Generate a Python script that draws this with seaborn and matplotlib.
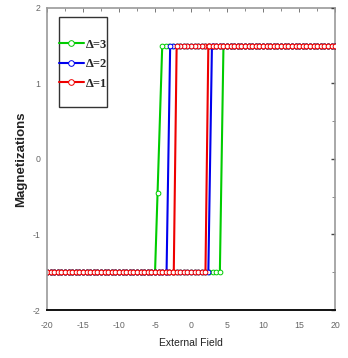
import numpy as np
import pandas as pd
import matplotlib
matplotlib.use("Agg")
import matplotlib.pyplot as plt
from matplotlib.patches import Rectangle
from matplotlib.ticker import MultipleLocator
import seaborn as sns

# Hysteresis loops M(H) for three values of Delta
DELTAS = [3, 2, 1]
LABELS = ["Δ=3", "Δ=2", "Δ=1"]
COLORS = ["#00cc00", "#0000ee", "#ee0000"]
M_SAT = 1.5
FIELD_STEP = 0.5
FIELD_MIN, FIELD_MAX = -20.0, 20.0
# descending sweep: last field on the upper plateau, first field on the lower plateau
DOWN_TOP = [-4.0, -2.9, -2.0]
DOWN_BOTTOM = [-5.0, -3.4, -2.4]
# ascending sweep: last field on the lower plateau, first field on the upper plateau
UP_BOTTOM = [4.0, 2.4, 2.0]
UP_TOP = [4.5, 2.9, 2.4]
# points caught mid-switch on the descending branch
DOWN_MID = [[(-4.65, -0.45)], [], []]

X_TICKS = [-20, -15, -10, -5, 0, 5, 10, 15, 20]
Y_TICKS = [-2, -1, 0, 1, 2]


def loop_frame(i):
    grid = np.arange(FIELD_MIN, FIELD_MAX + 1e-9, FIELD_STEP)
    h, m = [], []
    # field swept down from +20 to -20
    top = grid[grid >= DOWN_TOP[i]][::-1]
    h += list(top); m += [M_SAT] * len(top)
    if top[-1] != DOWN_TOP[i]:
        h.append(DOWN_TOP[i]); m.append(M_SAT)
    for hh, mm in DOWN_MID[i]:
        h.append(hh); m.append(mm)
    bot = grid[grid <= DOWN_BOTTOM[i]][::-1]
    if bot[0] != DOWN_BOTTOM[i]:
        h.append(DOWN_BOTTOM[i]); m.append(-M_SAT)
    h += list(bot); m += [-M_SAT] * len(bot)
    # field swept back up from -20 to +20
    bot = grid[grid <= UP_BOTTOM[i]]
    h += list(bot); m += [-M_SAT] * len(bot)
    if bot[-1] != UP_BOTTOM[i]:
        h.append(UP_BOTTOM[i]); m.append(-M_SAT)
    top = grid[grid >= UP_TOP[i]]
    if top[0] != UP_TOP[i]:
        h.append(UP_TOP[i]); m.append(M_SAT)
    h += list(top); m += [M_SAT] * len(top)
    return pd.DataFrame({"H": h, "M": m})


sns.set_style("white")
plt.rcParams["font.family"] = ["Liberation Sans", "DejaVu Sans"]

fig = plt.figure(figsize=(3.48, 3.58), dpi=100)
ax = fig.add_axes([0.135, 0.134, 0.828, 0.844])

for i, lab in enumerate(LABELS):
    df = loop_frame(i)
    sns.lineplot(data=df, x="H", y="M", sort=False, estimator=None,
                 color=COLORS[i], lw=1.5, marker="o", markersize=3.4,
                 markerfacecolor="white", markeredgecolor=COLORS[i],
                 markeredgewidth=0.7, label=lab, ax=ax)

ax.set_xlim(FIELD_MIN, FIELD_MAX)
ax.set_ylim(-2, 2)
ax.set_xticks(X_TICKS)
ax.set_yticks(Y_TICKS)
ax.set_xticklabels([str(t) for t in X_TICKS])
ax.set_yticklabels([str(t) for t in Y_TICKS])
ax.xaxis.set_minor_locator(MultipleLocator(2.5))
ax.yaxis.set_minor_locator(MultipleLocator(0.5))
ax.tick_params(axis="both", which="major", direction="out", length=3,
               width=0.8, labelsize=6.3, labelcolor="#666666", color="#333333")
ax.tick_params(axis="x", which="major", pad=5)
ax.tick_params(axis="y", which="major", pad=1.5)
ax.tick_params(axis="both", which="minor", direction="out", length=2,
               width=0.6, color="#555555")

# inward ticks on the top and right frame edges
top_ax = ax.secondary_xaxis("top")
top_ax.set_xticks(X_TICKS)
top_ax.xaxis.set_minor_locator(MultipleLocator(2.5))
top_ax.tick_params(which="major", direction="in", length=3, width=0.7,
                   color="#777777", labeltop=False)
top_ax.tick_params(which="minor", direction="in", length=2, width=0.6, color="#777777")
right_ax = ax.secondary_yaxis("right")
right_ax.set_yticks(Y_TICKS)
right_ax.yaxis.set_minor_locator(MultipleLocator(0.5))
right_ax.tick_params(which="major", direction="in", length=3, width=1.0,
                     color="#444444", labelright=False)
right_ax.tick_params(which="minor", direction="in", length=2, width=0.6, color="#777777")

for a, side in [(ax, "left"), (top_ax, "top"), (right_ax, "right")]:
    a.spines[side].set_color("#999999")
    a.spines[side].set_linewidth(1.2)
for side in ["top", "right"]:
    ax.spines[side].set_visible(False)
ax.spines["bottom"].set_color("#111111")
ax.spines["bottom"].set_linewidth(1.4)

ax.set_xlabel("External Field", fontsize=7.5, color="#222222", labelpad=6)
ax.set_ylabel("Magnetizations", fontsize=9.5, fontweight="bold", color="#222222",
              labelpad=4)

leg = ax.legend(loc="upper left", bbox_to_anchor=(0.04, 0.898), frameon=False,
                handlelength=2.0, handletextpad=0.2, labelspacing=0.6,
                borderaxespad=0, borderpad=0, markerscale=1.2,
                prop={"family": "Liberation Serif", "weight": "bold", "size": 9})
ax.add_patch(Rectangle((0.042, 0.672), 0.166, 0.298, transform=ax.transAxes,
                       fill=False, lw=1.0, ec="#333333", zorder=5))

fig.savefig("out.png", dpi=100)
